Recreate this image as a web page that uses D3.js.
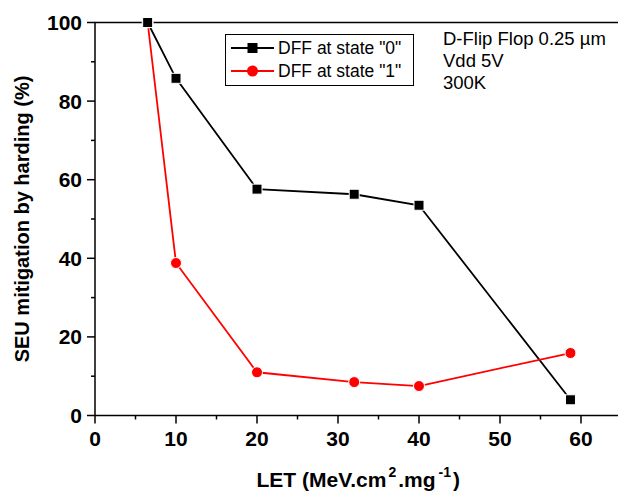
<!DOCTYPE html>
<html>
<head>
<meta charset="utf-8">
<script src="https://cdn.jsdelivr.net/npm/d3@7"></script>
<style>
  body { margin: 0; background: #fff; }
  text { font-family: Arial, "Liberation Sans", sans-serif; }
</style>
</head>
<body>
<div id="chart"></div>
<script>
const letValues = [6.5, 10, 20, 32, 40, 58.7];
const state0 = [100, 85.8, 57.6, 56.3, 53.5, 4];
const state1 = [100, 38.8, 11, 8.5, 7.5, 15.9];
const xTicks = [0, 10, 20, 30, 40, 50, 60];
const yTicks = [0, 20, 40, 60, 80, 100];
const seriesNames = ['DFF at state "0"', 'DFF at state "1"'];
const noteLines = ["D-Flip Flop 0.25 µm", "Vdd 5V", "300K"];

const width = 618, height = 494;
const margin = {top: 22.5, left: 95, bottom: 78.5, right: -3.5};

const svg = d3.select('#chart').append('svg')
  .attr('width', width).attr('height', height);

const x = d3.scaleLinear().domain([0, 65]).range([margin.left, width - margin.right]);
const y = d3.scaleLinear().domain([0, 100]).range([height - margin.bottom, margin.top]);

// frame
svg.append('rect')
  .attr('x', x(0)).attr('y', y(100))
  .attr('width', x(65) - x(0)).attr('height', y(0) - y(100))
  .attr('fill', 'none').attr('stroke', '#000').attr('stroke-width', 1.5);

// x ticks
const xg = svg.append('g');
xg.selectAll('line.maj').data(xTicks).join('line')
  .attr('x1', d => x(d)).attr('x2', d => x(d))
  .attr('y1', y(0)).attr('y2', y(0) + 8)
  .attr('stroke', '#000').attr('stroke-width', 1.5);
xg.selectAll('line.min').data(xTicks.slice(0, -1).map(d => d + 5)).join('line')
  .attr('x1', d => x(d)).attr('x2', d => x(d))
  .attr('y1', y(0)).attr('y2', y(0) + 4)
  .attr('stroke', '#000').attr('stroke-width', 1.5);
xg.selectAll('text').data(xTicks).join('text')
  .attr('x', d => x(d)).attr('y', y(0) + 30)
  .attr('text-anchor', 'middle')
  .attr('font-size', 21).attr('font-weight', 'bold')
  .text(d => d);

// y ticks
const yg = svg.append('g');
yg.selectAll('line.maj').data(yTicks).join('line')
  .attr('y1', d => y(d)).attr('y2', d => y(d))
  .attr('x1', x(0) - 8).attr('x2', x(0))
  .attr('stroke', '#000').attr('stroke-width', 1.5);
yg.selectAll('line.min').data(yTicks.slice(0, -1).map(d => d + 10)).join('line')
  .attr('y1', d => y(d)).attr('y2', d => y(d))
  .attr('x1', x(0) - 4).attr('x2', x(0))
  .attr('stroke', '#000').attr('stroke-width', 1.5);
yg.selectAll('text').data(yTicks).join('text')
  .attr('x', x(0) - 13).attr('y', d => y(d) + 7.5)
  .attr('text-anchor', 'end')
  .attr('font-size', 21).attr('font-weight', 'bold')
  .text(d => d);

// axis titles
const xt = svg.append('text')
  .attr('x', (x(0) + x(65)) / 2).attr('y', 487)
  .attr('text-anchor', 'middle')
  .attr('font-size', 21).attr('font-weight', 'bold');
xt.append('tspan').text('LET (MeV.cm');
xt.append('tspan').attr('font-size', 14).attr('dx', 2).attr('dy', -10).text('2');
xt.append('tspan').attr('dx', 2).attr('dy', 10).text('.mg');
xt.append('tspan').attr('font-size', 14).attr('dx', 3).attr('dy', -10).text('-1');
xt.append('tspan').attr('dx', 2).attr('dy', 10).text(')');

svg.append('text')
  .attr('transform', `translate(28.5,${(y(0) + y(100)) / 2}) rotate(-90)`)
  .attr('text-anchor', 'middle')
  .attr('font-size', 20).attr('font-weight', 'bold')
  .text('SEU mitigation by harding (%)');

// series
const line = d3.line().x(d => x(d[0])).y(d => y(d[1]));
const pts0 = letValues.map((v, i) => [v, state0[i]]);
const pts1 = letValues.map((v, i) => [v, state1[i]]);

svg.append('path').datum(pts0).attr('d', line)
  .attr('fill', 'none').attr('stroke', '#000').attr('stroke-width', 1.8);
svg.append('path').datum(pts1).attr('d', line)
  .attr('fill', 'none').attr('stroke', '#ff0000').attr('stroke-width', 1.8);

svg.append('g').selectAll('circle').data(pts1).join('circle')
  .attr('cx', d => x(d[0])).attr('cy', d => y(d[1])).attr('r', 5.5)
  .attr('fill', '#ff0000').attr('stroke', '#fff').attr('stroke-width', 1);
svg.append('g').selectAll('rect').data(pts0).join('rect')
  .attr('x', d => x(d[0]) - 5).attr('y', d => y(d[1]) - 5)
  .attr('width', 10).attr('height', 10)
  .attr('fill', '#000').attr('stroke', '#fff').attr('stroke-width', 1);

// legend
const lg = svg.append('g');
lg.append('rect').attr('x', 225.5).attr('y', 34.5).attr('width', 188).attr('height', 51)
  .attr('fill', '#fff').attr('stroke', '#000').attr('stroke-width', 1);
const colors = ['#000', '#ff0000'];
seriesNames.forEach((name, i) => {
  const cy = 48 + i * 23;
  lg.append('line').attr('x1', 231).attr('x2', 274).attr('y1', cy).attr('y2', cy)
    .attr('stroke', colors[i]).attr('stroke-width', 1.8);
  if (i === 0) {
    lg.append('rect').attr('x', 247.5).attr('y', cy - 5).attr('width', 10).attr('height', 10)
      .attr('fill', '#000');
  } else {
    lg.append('circle').attr('cx', 252.5).attr('cy', cy).attr('r', 5.5).attr('fill', '#ff0000');
  }
  lg.append('text').attr('x', 278).attr('y', cy + 6)
    .attr('font-size', 17.5).text(name);
});

// annotation
svg.append('g').selectAll('text').data(noteLines).join('text')
  .attr('x', 443).attr('y', (d, i) => 45 + i * 22)
  .attr('font-size', 18.5).text(d => d);
</script>
</body>
</html>
